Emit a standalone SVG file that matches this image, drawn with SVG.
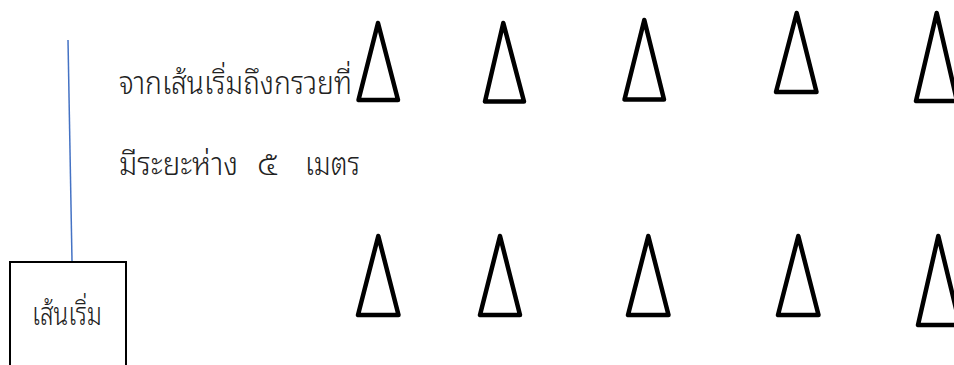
<svg xmlns="http://www.w3.org/2000/svg" width="954" height="365" viewBox="0 0 954 365">
<style>
.cone{fill:none;stroke:#000;stroke-width:4.5;stroke-linejoin:round}
.lbl{font-family:"Noto Sans Thai Looped","Noto Sans Thai","Noto Sans","DejaVu Sans",sans-serif;font-size:32px;font-weight:300;fill:#222}
.box{fill:none;stroke:#000;stroke-width:2}
</style>
<rect width="954" height="365" fill="#fff"/>
<g id="connectors">
<line x1="68" y1="40" x2="72" y2="261" stroke="#4472C4" stroke-width="1.5"/>
</g>
<g id="start-line">
<rect class="box" x="10" y="262" width="116" height="110"/>
<text class="lbl" x="32" y="325" textLength="70" lengthAdjust="spacingAndGlyphs">เส้นเริ่ม</text>
</g>
<g id="label-1">
<text class="lbl" x="119" y="94" textLength="233" lengthAdjust="spacingAndGlyphs">จากเส้นเริ่มถึงกรวยที่</text>
</g>
<g id="label-2">
<text class="lbl" y="175"><tspan x="119" textLength="119" lengthAdjust="spacingAndGlyphs">มีระยะห่าง</tspan><tspan x="249"> ๕ </tspan><tspan x="305" textLength="55" lengthAdjust="spacingAndGlyphs">เมตร</tspan></text>
</g>
<g id="cone-top-1"><polygon class="cone" points="378,23 358.5,100 398,100"/></g>
<g id="cone-top-2"><polygon class="cone" points="503.3,23 485,101.5 524,101.5"/></g>
<g id="cone-top-3"><polygon class="cone" points="644.3,20 624.5,99.5 664,99.5"/></g>
<g id="cone-top-4"><polygon class="cone" points="796.7,13 776,92 816.5,92"/></g>
<g id="cone-top-5"><polygon class="cone" points="936.7,13 916,101 957,101"/></g>
<g id="cone-bottom-1"><polygon class="cone" points="378.3,236 358,315 398.5,315"/></g>
<g id="cone-bottom-2"><polygon class="cone" points="500,236 480,315 520,315"/></g>
<g id="cone-bottom-3"><polygon class="cone" points="648.3,236 628,315 668.5,315"/></g>
<g id="cone-bottom-4"><polygon class="cone" points="798.3,236 778,315 818.5,315"/></g>
<g id="cone-bottom-5"><polygon class="cone" points="938.3,236 918,325 960,325"/></g>
</svg>
